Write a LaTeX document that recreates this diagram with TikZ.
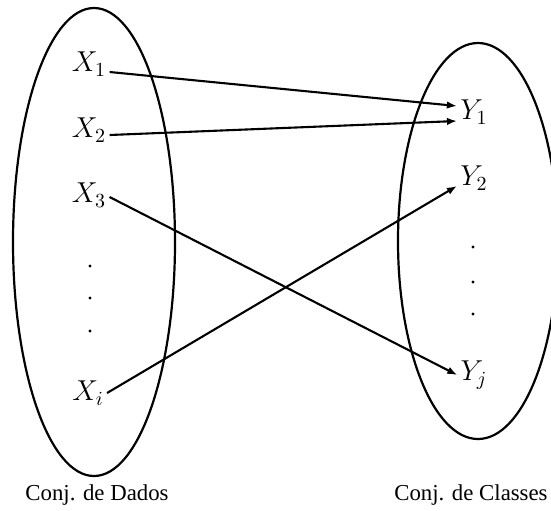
\documentclass[tikz,border=0pt]{standalone}
\usepackage{fontspec}
\setmainfont{Liberation Serif}
\usetikzlibrary{arrows.meta,positioning,shapes.geometric}

\begin{document}
\begin{tikzpicture}[
    x=0.5pt, y=-0.5pt,
    font=\fontsize{11.4}{13}\selectfont,
    >={Latex[length=5pt,width=3.8pt]}
  ]
  \useasboundingbox (0,0) rectangle (551,510);

  % Styles
  \tikzset{
    conj/.style={draw, ellipse, line width=1.1pt, inner sep=0pt},
    elem/.style={inner sep=1.5pt, font=\fontsize{14.5}{16}\selectfont},
    seta/.style={->, line width=1.05pt},
    ponto/.style={circle, fill, inner sep=0pt, minimum size=1.6pt}
  }

  % The two sets
  \node (dados)   [conj, minimum width=81pt, minimum height=234pt] at (94,242) {};
  \node (classes) [conj, minimum width=80pt, minimum height=198pt] at (478,241) {};

  % Elements of the data set
  \node (x1) [elem] at (89,64)  {$X_1$};
  \node (x2) [elem] at (89,130) {$X_2$};
  \node (x3) [elem] at (89,195) {$X_3$};
  \node (xi) [elem] at (88,393) {$X_i$};
  \foreach \y in {266,298,331}
    \node (pd\y) [ponto] at (90,\y) {};

  % Elements of the class set
  \node (y1) [elem] at (474,112) {$Y_1$};
  \node (y2) [elem] at (474,178) {$Y_2$};
  \node (yj) [elem] at (474,375) {$Y_j$};
  \foreach \y in {247,282,314}
    \node (pc\y) [ponto] at (473,\y) {};

  % Mapping
  \draw[seta] ([yshift=-4pt]x1.east)   -- ([yshift=3pt]y1.west);
  \draw[seta] ([yshift=-2.5pt]x2.east) -- ([yshift=-4.5pt]y1.west);
  \draw[seta] ([yshift=-1pt]x3.east)   -- (yj.west);
  \draw[seta] (xi.east)                -- ([yshift=-4pt]y2.west);

  % Set names
  \node (nomedados)   at (97,495)  {Conj. de Dados};
  \node (nomeclasses) [anchor=east, inner sep=1pt] at (550,495) {Conj. de Classes};

\end{tikzpicture}
\end{document}
